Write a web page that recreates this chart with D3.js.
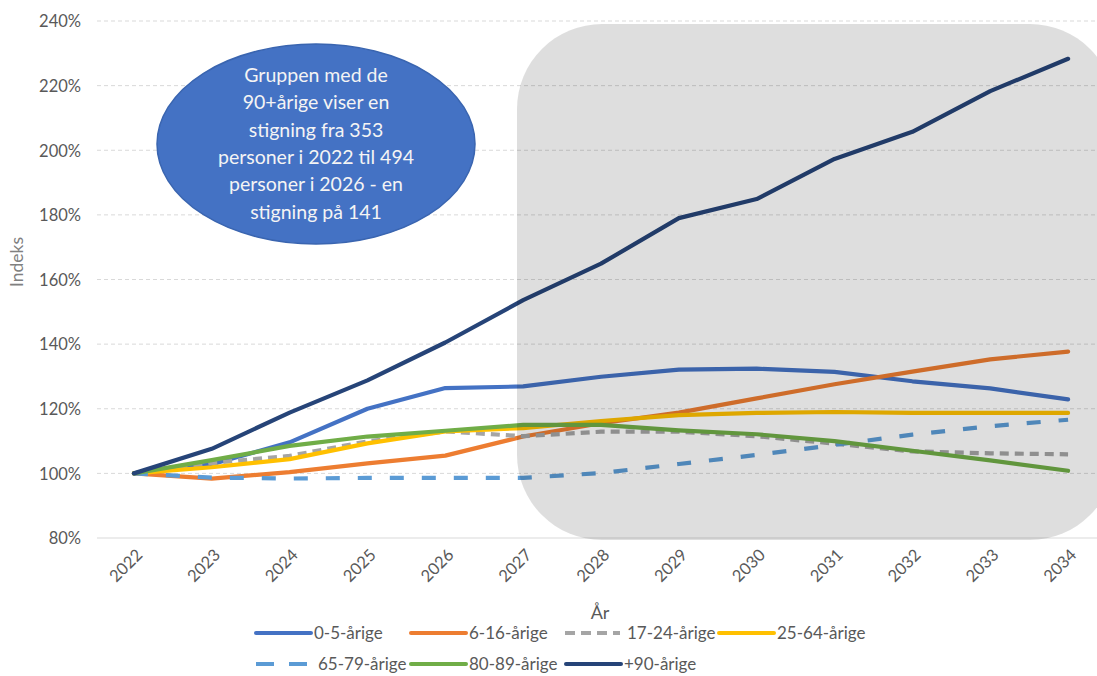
<!DOCTYPE html>
<html><head><meta charset="utf-8">
<script src="https://cdn.jsdelivr.net/npm/d3@7"></script>
<style>
body{margin:0;background:#fff;}
text{font-family:Lato,"Open Sans",sans-serif;}
</style>
</head><body>
<svg id="chart" width="1097" height="676"></svg>
<script>
const years = ["2022","2023","2024","2025","2026","2027","2028","2029","2030","2031","2032","2033","2034"];
const yTicks = [80,100,120,140,160,180,200,220,240];
const seriesNames = ["0-5-årige","6-16-årige","17-24-årige","25-64-årige","65-79-årige","80-89-årige","+90-årige"];
const s0_5   = [100,102.8,109.6,120.0,126.4,126.9,129.9,132.1,132.4,131.4,128.5,126.3,122.9];
const s6_16  = [100,98.4,100.4,103.1,105.5,111.4,115.5,118.8,123.2,127.6,131.5,135.3,137.7];
const s17_24 = [100,103.2,105.4,109.9,113.0,111.5,112.9,112.9,111.5,109.2,106.8,106.2,105.9];
const s25_64 = [100,101.9,104.4,109.3,113.0,114.0,116.2,118.0,118.7,119.0,118.7,118.7,118.7];
const s65_79 = [100,98.7,98.4,98.6,98.6,98.6,100.1,102.9,105.7,108.8,112.0,114.6,116.6];
const s80_89 = [100,104.1,108.5,111.4,113.2,115.0,115.0,113.3,112.1,110.0,107.0,104.0,100.8];
const s90    = [100,107.6,118.8,128.8,140.5,153.6,164.9,179.0,184.9,197.3,205.7,218.3,228.3];
const colors = ["#4472C4","#ED7D31","#A5A5A5","#FFC000","#5B9BD5","#70AD47","#264478"];
const dashes = [null,null,"9,6",null,"14,18",null,null];
const annotationLines = ["Gruppen med de","90+årige viser en","stigning fra 353","personer i 2022 til 494","personer i 2026 - en","stigning på 141"];

const allSeries = [s0_5,s6_16,s17_24,s25_64,s65_79,s80_89,s90];

const svg = d3.select("#chart");
const x = d3.scalePoint().domain(years).range([95,1107]).padding(0.5);
const y = d3.scaleLinear().domain([80,240]).range([538,21]);

// gridlines
const grid = svg.append("g");
grid.selectAll("line").data(yTicks).join("line")
  .attr("x1",97).attr("x2",1097)
  .attr("y1",d=>y(d)).attr("y2",d=>y(d))
  .attr("stroke","#D9D9D9").attr("stroke-width",1)
  .attr("stroke-dasharray",d=>d===80?null:"4,3");

// y axis labels
const yAxis = d3.axisLeft(y).tickValues(yTicks).tickFormat(d=>d+"%").tickSize(0).tickPadding(0);
const ya = svg.append("g").attr("transform","translate(81,0)").call(yAxis);
ya.select(".domain").remove();
ya.selectAll("text").attr("fill","#595959").style("font-size","16.5px").attr("dy","0.35em");

// x axis labels
const xAxis = d3.axisBottom(x).tickSize(0);
const xa = svg.append("g").attr("transform","translate(0,538)").call(xAxis);
xa.select(".domain").remove();
xa.selectAll("text").attr("fill","#595959").style("font-size","16.5px")
  .attr("text-anchor","end").attr("dy",null).attr("y",null)
  .attr("transform","translate(9,18) rotate(-45)");

// axis titles
svg.append("text").attr("x",600).attr("y",619).attr("text-anchor","middle")
  .attr("fill","#595959").style("font-size","18px").text("År");
svg.append("text").attr("transform","translate(23,262) rotate(-90)").attr("text-anchor","middle")
  .attr("fill","#808080").style("font-size","17.5px").text("Indeks");

// lines
const line = d3.line().x((d,i)=>x(years[i])).y(d=>y(d));
allSeries.forEach((s,k)=>{
  svg.append("path").datum(s).attr("d",line)
    .attr("fill","none").attr("stroke",colors[k]).attr("stroke-width",4.2)
    .attr("stroke-linejoin","round")
    .attr("stroke-linecap",dashes[k]?"butt":"round")
    .attr("stroke-dasharray",dashes[k]);
});

// shaded rounded region
svg.append("rect").attr("x",517).attr("y",24).attr("width",598).attr("height",516)
  .attr("rx",85).attr("ry",85).attr("fill","#000").attr("fill-opacity",0.13);

// annotation ellipse
svg.append("ellipse").attr("cx",316).attr("cy",144).attr("rx",159).attr("ry",100)
  .attr("fill","#4472C4").attr("stroke","#3A65B0").attr("stroke-width",1.5);
svg.append("g").selectAll("text").data(annotationLines).join("text")
  .attr("x",316).attr("y",(d,i)=>75+i*27.4).attr("dy","0.35em")
  .attr("text-anchor","middle").attr("fill","#F4F4F4").style("font-size","19.5px").text(d=>d);

// legend
const legendPos = [[256,633],[411,633],[565,633],[719,633],[256,664],[411,664],[566,664]];
seriesNames.forEach((n,k)=>{
  const [lx,ly] = legendPos[k];
  svg.append("line").attr("x1",lx).attr("x2",lx+55).attr("y1",ly).attr("y2",ly)
    .attr("stroke",colors[k]).attr("stroke-width",4)
    .attr("stroke-linecap",dashes[k]?"butt":"round")
    .attr("stroke-dasharray",k===2?"10,6":(k===4?"18,15":null));
  svg.append("text").attr("x",lx+(k===2||k===4?62:58)).attr("y",ly).attr("dy","0.35em")
    .attr("fill","#595959").style("font-size","17px").text(n);
});
</script>
</body></html>
